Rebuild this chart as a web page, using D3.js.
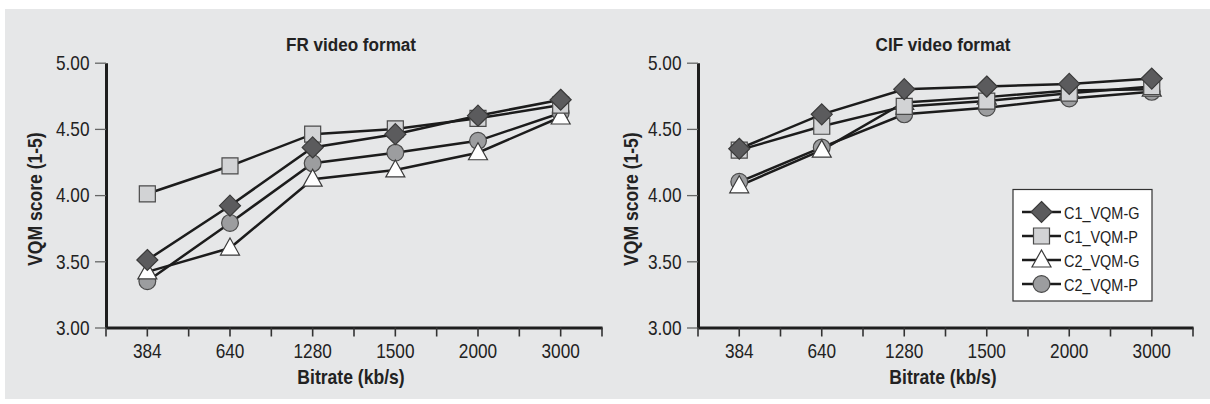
<!DOCTYPE html>
<html>
<head>
<meta charset="utf-8">
<script src="https://cdn.jsdelivr.net/npm/d3@7"></script>
<style>
  html, body { margin: 0; padding: 0; background: #ffffff; }
  svg { display: block; }
</style>
</head>
<body>
<svg id="chart" width="1210" height="404"></svg>
<script>
// ---------- data ----------
const categories = ["384", "640", "1280", "1500", "2000", "3000"];
const seriesNames = ["C1_VQM-G", "C1_VQM-P", "C2_VQM-G", "C2_VQM-P"];
const yTickValues = [3.00, 3.50, 4.00, 4.50, 5.00];
const panelTitles = ["FR video format", "CIF video format"];
const xTitle = "Bitrate (kb/s)";
const yTitle = "VQM score (1-5)";

// FR video format
const frC1G = [3.51, 3.92, 4.36, 4.46, 4.60, 4.72];
const frC1P = [4.01, 4.22, 4.46, 4.50, 4.58, 4.68];
const frC2G = [3.42, 3.60, 4.12, 4.19, 4.32, 4.59];
const frC2P = [3.35, 3.79, 4.24, 4.32, 4.41, 4.62];

// CIF video format
const cifC1G = [4.35, 4.61, 4.80, 4.82, 4.84, 4.88];
const cifC1P = [4.34, 4.52, 4.67, 4.71, 4.77, 4.82];
const cifC2G = [4.07, 4.34, 4.70, 4.74, 4.79, 4.80];
const cifC2P = [4.10, 4.36, 4.61, 4.66, 4.73, 4.78];

// ---------- styles ----------
const markerStyle = {
  "C1_VQM-G": { shape: "diamond", fill: "#5b5b5d", stroke: "#3a3a3a" },
  "C1_VQM-P": { shape: "square", fill: "#d2d3d5", stroke: "#4a4a4a" },
  "C2_VQM-G": { shape: "triangle", fill: "#ffffff", stroke: "#3a3a3a" },
  "C2_VQM-P": { shape: "circle", fill: "#9c9d9f", stroke: "#4a4a4a" }
};

const svg = d3.select("#chart");
svg.append("rect").attr("x", 5).attr("y", 9).attr("width", 1205).attr("height", 390)
  .attr("fill", "#e6e7e8");

const SANS = "'Liberation Sans', Arial, Helvetica, sans-serif";

// emulate a condensed face by horizontal scaling (text stays text)
function condense(sel, sx) {
  sel.each(function () {
    const el = d3.select(this);
    const x = +el.attr("x") || 0;
    const y = +el.attr("y") || 0;
    el.attr("x", 0).attr("y", 0)
      .attr("transform", (el.attr("transform") || "") + ` translate(${x},${y}) scale(${sx},1)`);
  });
}

function markerPath(shape) {
  if (shape === "diamond") return "M0,-10.5L10.5,0L0,10.5L-10.5,0Z";
  if (shape === "square") return "M-8,-8H8V8H-8Z";
  if (shape === "triangle") return "M0,-10L9.5,7H-9.5Z";
  return null;
}

function drawMarker(g, shape, x, y, st) {
  if (shape === "circle") {
    g.append("circle").attr("cx", x).attr("cy", y).attr("r", 8.4)
      .attr("fill", st.fill).attr("stroke", st.stroke).attr("stroke-width", 1.2);
  } else {
    g.append("path").attr("d", markerPath(shape))
      .attr("transform", `translate(${x},${y})`)
      .attr("fill", st.fill).attr("stroke", st.stroke).attr("stroke-width", 1.2);
  }
}

function drawPanel(cfg) {
  const g = svg.append("g");
  const x = d3.scaleBand().domain(categories).range([cfg.x0, cfg.x1]).padding(0);
  const y = d3.scaleLinear().domain([3, 5]).range([327.5, 62.7]);

  // title
  g.append("text").attr("x", cfg.titleX).attr("y", 51)
    .attr("text-anchor", "middle").attr("font-family", SANS).attr("font-weight", "bold")
    .attr("font-size", 19).attr("fill", "#222").text(cfg.title)
    .call(condense, 0.9);

  // y axis
  const yAxis = d3.axisLeft(y).tickValues(yTickValues).tickFormat(d3.format(".2f"))
    .tickSize(11).tickSizeOuter(0).tickPadding(5);
  const ya = g.append("g").attr("transform", `translate(${cfg.x0},0)`).call(yAxis);
  ya.select(".domain").attr("stroke", "#1e1e1e").attr("stroke-width", 3);
  ya.selectAll(".tick line").attr("stroke", "#666").attr("stroke-width", 1.3);
  ya.selectAll(".tick text").attr("font-family", SANS).attr("font-size", 21).attr("fill", "#222")
    .attr("x", -16.5).call(condense, 0.82);

  // x axis
  const xAxis = d3.axisBottom(x).tickSize(9).tickSizeOuter(0).tickPadding(6.5);
  const xa = g.append("g").attr("transform", "translate(0,327.5)").call(xAxis);
  xa.select(".domain").attr("stroke", "#1e1e1e").attr("stroke-width", 3);
  xa.selectAll(".tick line").attr("stroke", "#333").attr("stroke-width", 1.6);
  xa.selectAll(".tick text").attr("font-family", SANS).attr("font-size", 21).attr("fill", "#222")
    .call(condense, 0.82);
  // boundary ticks between categories
  const bounds = categories.map(c => x(c)).concat([x.range()[1]]);
  xa.selectAll(".btick").data(bounds).enter().append("line")
    .attr("x1", d => d).attr("x2", d => d).attr("y1", 0).attr("y2", 9)
    .attr("stroke", "#333").attr("stroke-width", 1.6);

  // axis titles
  g.append("text").attr("x", cfg.titleX).attr("y", 384)
    .attr("text-anchor", "middle").attr("font-family", SANS).attr("font-weight", "bold")
    .attr("font-size", 19.5).attr("fill", "#222").text(xTitle)
    .call(condense, 0.9);
  g.append("text").attr("transform", `translate(${cfg.yLabelX},${(62.7 + 327.5) / 2 + 4}) rotate(-90) scale(0.9,1)`)
    .attr("text-anchor", "middle").attr("dominant-baseline", "central")
    .attr("font-family", SANS).attr("font-weight", "bold")
    .attr("font-size", 19.5).attr("fill", "#222").text(yTitle);

  // series: draw in order C2_P (bottom), C2_G, C1_P, C1_G (top)
  const order = [3, 2, 1, 0];
  const line = d3.line().x((d, i) => x(categories[i]) + x.bandwidth() / 2).y(d => y(d));
  order.forEach(si => {
    g.append("path").attr("d", line(cfg.series[si])).attr("fill", "none")
      .attr("stroke", "#1c1c1c").attr("stroke-width", 2.5);
  });
  order.forEach(si => {
    const st = markerStyle[seriesNames[si]];
    cfg.series[si].forEach((v, i) =>
      drawMarker(g, st.shape, x(categories[i]) + x.bandwidth() / 2, y(v), st));
  });
}

drawPanel({ x0: 106, x1: 602, titleX: 351, yLabelX: 35, title: panelTitles[0],
  series: [frC1G, frC1P, frC2G, frC2P] });
drawPanel({ x0: 698, x1: 1193, titleX: 943, yLabelX: 631, title: panelTitles[1],
  series: [cifC1G, cifC1P, cifC2G, cifC2P] });

// legend
const lg = svg.append("g");
lg.append("rect").attr("x", 1013).attr("y", 189.5).attr("width", 139).attr("height", 111.5)
  .attr("fill", "#ffffff").attr("stroke", "#333").attr("stroke-width", 1.2);
const legendY = d3.scalePoint().domain(seriesNames).range([212, 284]);
seriesNames.forEach(name => {
  const yy = legendY(name);
  const st = markerStyle[name];
  lg.append("line").attr("x1", 1022).attr("x2", 1061).attr("y1", yy).attr("y2", yy)
    .attr("stroke", "#1c1c1c").attr("stroke-width", 2.4);
  drawMarker(lg, st.shape, 1041.5, yy, st);
  lg.append("text").attr("x", 1064).attr("y", yy + 1).attr("dominant-baseline", "central")
    .attr("font-family", SANS).attr("font-size", 17).attr("fill", "#222").text(name)
    .call(condense, 0.85);
});
</script>
</body>
</html>
